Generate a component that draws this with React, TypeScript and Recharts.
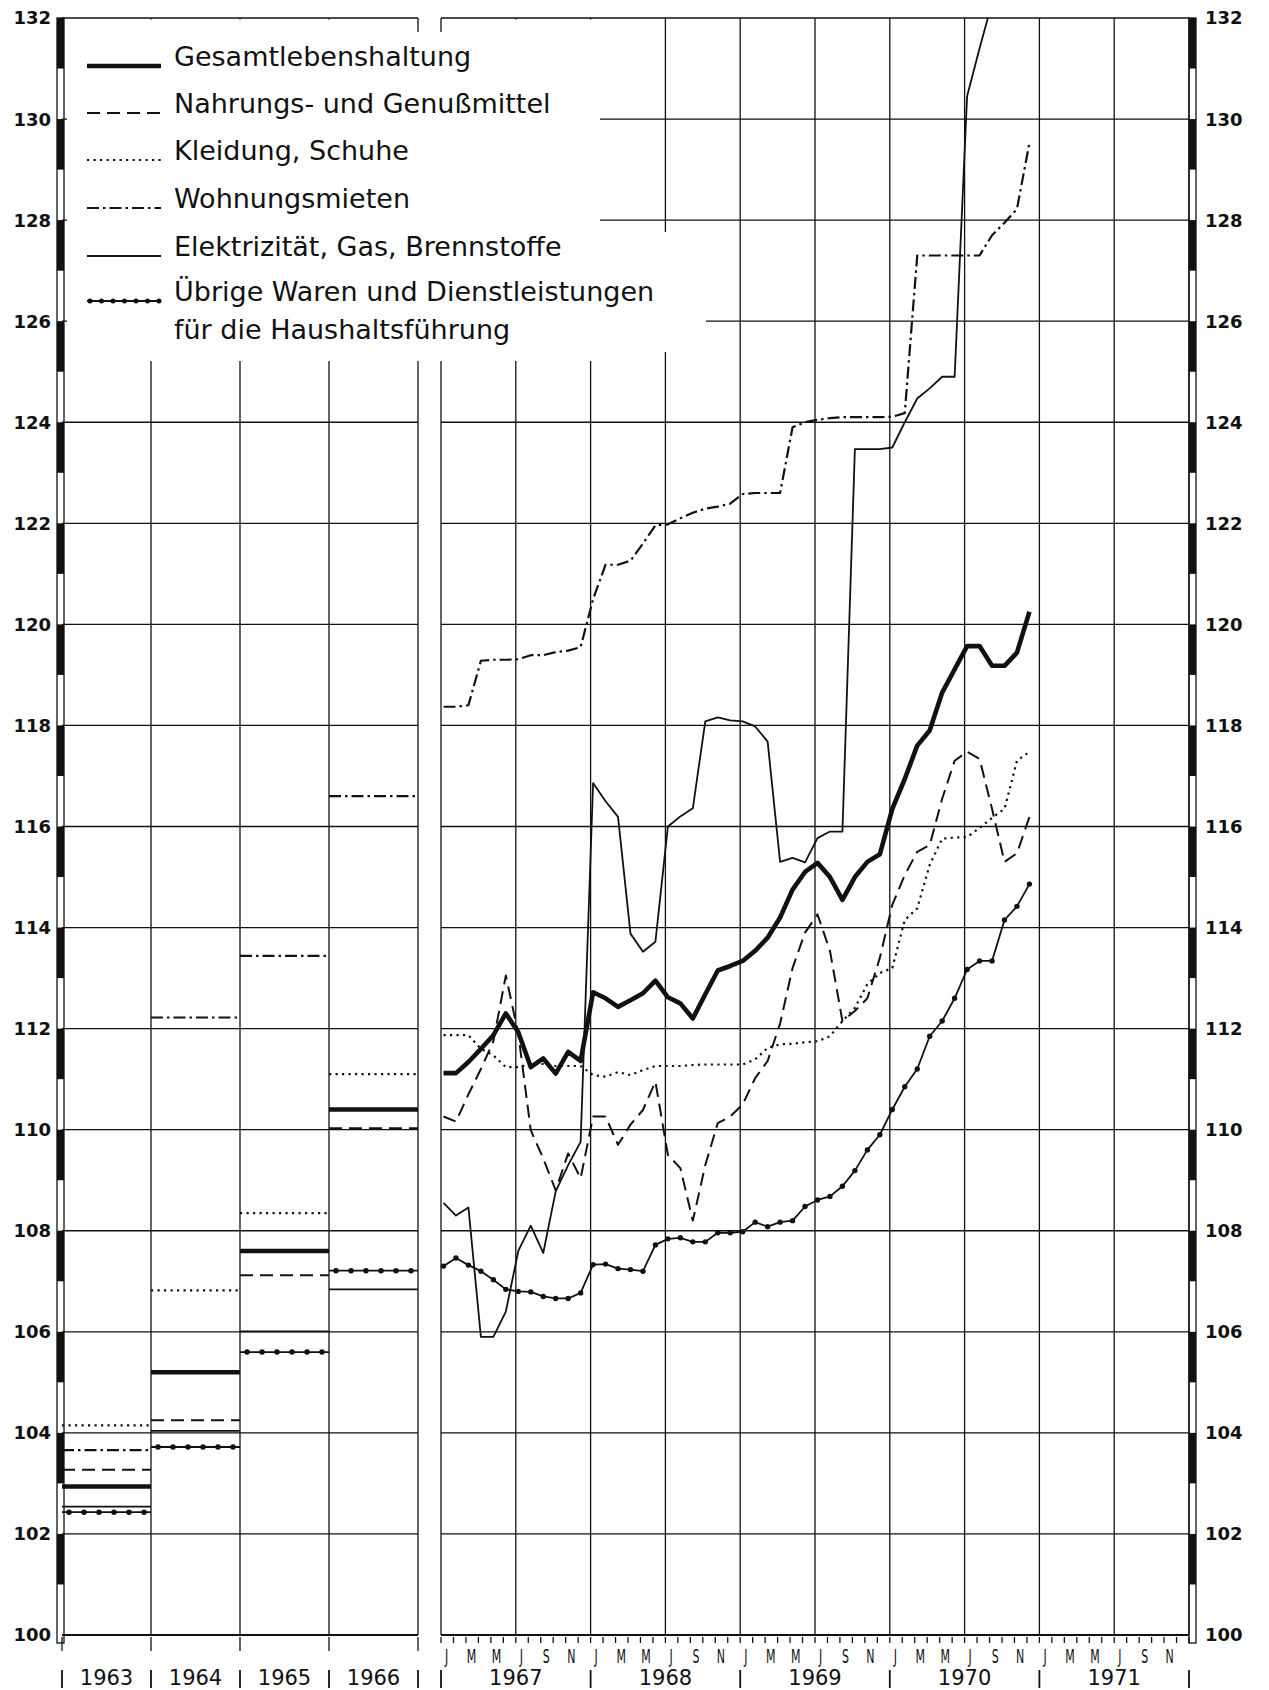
import React from 'react';
import { LineChart, Line, XAxis, YAxis, ReferenceLine } from 'recharts';

// Jahresdurchschnitte 1963-1966 (1962 = 100)
const years = ['1963', '1964', '1965', '1966'];
const gesamtYear = [102.94, 105.2, 107.6, 110.4];
const nahrungYear = [103.27, 104.25, 107.12, 110.03];
const kleidungYear = [104.15, 106.82, 108.35, 111.1];
const wohnYear = [103.66, 112.22, 113.44, 116.6];
const elektrYear = [102.54, 104.04, 106.01, 106.84];
const uebrigeYear = [102.43, 103.72, 105.6, 107.21];

// Monatswerte Januar 1967 - Dezember 1970
const monthYears = ['1967', '1968', '1969', '1970', '1971'];
const monthLetters = ['J', 'M', 'M', 'J', 'S', 'N'];

const gesamt = [
  111.12, 111.12, 111.34, 111.6, 111.87, 112.3, 111.93, 111.24, 111.41, 111.11, 111.54, 111.36,
  112.72, 112.6, 112.43, 112.56, 112.7, 112.95, 112.62, 112.5, 112.2, 112.68, 113.15, 113.24,
  113.34, 113.54, 113.8, 114.2, 114.75, 115.1, 115.28, 115.0, 114.55, 115.0, 115.3, 115.45,
  116.35, 116.94, 117.6, 117.9, 118.65, 119.11, 119.57, 119.57, 119.18, 119.18, 119.44, 120.25,
];
const nahrung = [
  110.26, 110.16, 110.7, 111.2, 111.75, 113.05, 111.9, 109.99, 109.43, 108.8, 109.53, 109.04,
  110.26, 110.26, 109.7, 110.1, 110.39, 110.95, 109.5, 109.24, 108.2, 109.3, 110.13, 110.26,
  110.5, 111.02, 111.36, 112.1, 113.2, 113.9, 114.26, 113.54, 112.15, 112.35, 112.6, 113.4,
  114.45, 115.04, 115.5, 115.63, 116.55, 117.3, 117.48, 117.34, 116.35, 115.3, 115.47, 116.19,
];
const kleidung = [
  111.87, 111.87, 111.87, 111.6, 111.47, 111.24, 111.24, 111.3, 111.3, 111.26, 111.26, 111.26,
  111.08, 111.05, 111.14, 111.08, 111.18, 111.26, 111.26, 111.26, 111.28, 111.29, 111.29, 111.29,
  111.29, 111.39, 111.62, 111.69, 111.7, 111.73, 111.75, 111.85, 112.15, 112.41, 112.88, 113.1,
  113.2, 114.15, 114.38, 115.24, 115.76, 115.78, 115.79, 115.97, 116.17, 116.35, 117.3, 117.48,
];
const wohn = [
  118.37, 118.37, 118.4, 119.28, 119.3, 119.3, 119.31, 119.39, 119.39, 119.45, 119.48, 119.55,
  120.5, 121.18, 121.18, 121.26, 121.6, 121.96, 121.98, 122.1, 122.21, 122.29, 122.33, 122.39,
  122.58, 122.6, 122.6, 122.6, 123.9, 124.0, 124.05, 124.08, 124.1, 124.1, 124.1, 124.1,
  124.11, 124.18, 127.3, 127.3, 127.3, 127.3, 127.3, 127.3, 127.7, 127.95, 128.22, 129.53,
];
const elektr = [
  108.55, 108.3, 108.46, 105.9, 105.9, 106.4, 107.6, 108.1, 107.56, 108.78, 109.3, 109.76,
  116.86, 116.5, 116.19, 113.88, 113.52, 113.72, 116.0, 116.2, 116.36, 118.08, 118.16, 118.1,
  118.08, 117.98, 117.68, 115.3, 115.38, 115.29, 115.77, 115.9, 115.9, 123.47, 123.47, 123.47,
  123.5, 124.0, 124.47, 124.67, 124.9, 124.9, 130.45, 131.4, 132.3, 133.2, 134.0, 134.8,
];
const uebrige = [
  107.3, 107.46, 107.32, 107.2, 107.03, 106.84, 106.8, 106.79, 106.7, 106.66, 106.66, 106.77,
  107.33, 107.34, 107.25, 107.23, 107.2, 107.72, 107.84, 107.86, 107.78, 107.78, 107.96, 107.96,
  107.98, 108.17, 108.08, 108.17, 108.2, 108.48, 108.61, 108.68, 108.88, 109.19, 109.6, 109.9,
  110.4, 110.85, 111.2, 111.85, 112.15, 112.6, 113.17, 113.34, 113.34, 114.15, 114.42, 114.86,
];

const seriesNames = [
  'Gesamtlebenshaltung',
  'Nahrungs- und Genußmittel',
  'Kleidung, Schuhe',
  'Wohnungsmieten',
  'Elektrizität, Gas, Brennstoffe',
  'Übrige Waren und Dienstleistungen',
];
const seriesNameCont = 'für die Haushaltsführung';

const yTicks = Array.from({ length: 33 }, (_, i) => 100 + i);
const yGrid = yTicks.filter((v) => v % 2 === 0 && v > 100);
const monthTicks = Array.from({ length: 61 }, (_, i) => i);

const INK = '#111';
const FONT = '"DejaVu Sans", Verdana, sans-serif';
const TOP = 18;
const BOTTOM = 1635;
const UNIT = (BOTTOM - TOP) / 32;
const LEFT_X0 = 62;
const LEFT_X1 = 418;
const RIGHT_X0 = 441;
const RIGHT_X1 = 1189;
const YEAR_W = (LEFT_X1 - LEFT_X0) / 4;
const MONTH_W = (RIGHT_X1 - RIGHT_X0) / 60;

const styles: Record<string, any> = {
  gesamt: { strokeWidth: 4.6 },
  nahrung: { strokeWidth: 2, strokeDasharray: '13 7' },
  kleidung: { strokeWidth: 2.2, strokeDasharray: '2.2 4.3' },
  wohn: { strokeWidth: 2.2, strokeDasharray: '12 4 2.5 4' },
  elektr: { strokeWidth: 1.8 },
  uebrige: { strokeWidth: 1.8 },
};
const keys = ['gesamt', 'nahrung', 'kleidung', 'wohn', 'elektr', 'uebrige'];

// left panel: each year is one flat segment, broken by an empty row
const annualRows = years.flatMap((_, k) => {
  const vals = {
    gesamt: gesamtYear[k],
    nahrung: nahrungYear[k],
    kleidung: kleidungYear[k],
    wohn: wohnYear[k],
    elektr: elektrYear[k],
    uebrige: uebrigeYear[k],
  };
  return [{ x: k, ...vals }, { x: k + 1, ...vals }, { x: k + 1 }];
});

const monthRows = gesamt.map((_, i) => ({
  x: i + 0.2,
  gesamt: gesamt[i],
  nahrung: nahrung[i],
  kleidung: kleidung[i],
  wohn: wohn[i],
  elektr: elektr[i],
  uebrige: uebrige[i],
}));

const LeftYTick = ({ x, y, payload }: any) => {
  const v = payload.value;
  return (
    <g>
      {v % 2 === 0 && v > 100 && <rect x={x - 3} y={y} width={7} height={UNIT} fill={INK} />}
      {v === 132 && (
        <rect x={x - 3} y={y} width={7} height={UNIT * 32 + 8} fill="none" stroke={INK} strokeWidth={1.3} />
      )}
      {v % 2 === 0 && (
        <text x={x - 9} y={y} dy="0.36em" textAnchor="end" fontFamily={FONT} fontWeight="bold" fontSize={18} fill={INK}>
          {v}
        </text>
      )}
    </g>
  );
};

const RightYTick = ({ x, y, payload }: any) => {
  const v = payload.value;
  return (
    <g>
      {v % 2 === 0 && v > 100 && <rect x={x - 2} y={y} width={7} height={UNIT} fill={INK} />}
      {v === 132 && (
        <rect x={x - 2} y={y} width={7} height={UNIT * 32 + 8} fill="none" stroke={INK} strokeWidth={1.3} />
      )}
      {v % 2 === 0 && (
        <text x={x + 14} y={y} dy="0.36em" textAnchor="start" fontFamily={FONT} fontWeight="bold" fontSize={18} fill={INK}>
          {v}
        </text>
      )}
    </g>
  );
};

const LeftXTick = ({ x, y, payload }: any) => {
  const k = payload.value;
  return (
    <g>
      <line x1={x} x2={x} y1={y} y2={y + 14} stroke={INK} strokeWidth={1.3} />
      <line x1={x} x2={x} y1={y + 33} y2={y + 51} stroke={INK} strokeWidth={1.8} />
      {k < 4 && (
        <text x={x + YEAR_W / 2} y={y + 48} textAnchor="middle" fontFamily={FONT} fontSize={21} fill={INK}>
          {years[k]}
        </text>
      )}
    </g>
  );
};

const MonthTick = ({ x, y, payload }: any) => {
  const v = payload.value;
  const m = v % 12;
  const lx = x + MONTH_W * 0.45;
  return (
    <g>
      <line x1={x} x2={x} y1={y} y2={y + 6} stroke={INK} strokeWidth={1.3} />
      {v < 60 && m % 2 === 0 && (
        <text
          transform={`translate(${lx},${y + 26}) scale(0.55,1)`}
          textAnchor="middle"
          fontFamily={FONT}
          fontSize={20}
          fill={INK}
        >
          {monthLetters[m / 2]}
        </text>
      )}
      {m === 0 && <line x1={x} x2={x} y1={y + 33} y2={y + 51} stroke={INK} strokeWidth={1.8} />}
      {m === 6 && (
        <text x={x} y={y + 48} textAnchor="middle" fontFamily={FONT} fontSize={21} fill={INK}>
          {monthYears[(v - 6) / 12]}
        </text>
      )}
    </g>
  );
};

function seriesLines(dotted: boolean) {
  return keys.map((k) => (
    <Line
      key={k}
      type="linear"
      dataKey={k}
      stroke={INK}
      {...styles[k]}
      strokeLinejoin="round"
      dot={k === 'uebrige' && !dotted ? { r: 2.7, fill: INK, stroke: INK, strokeWidth: 0 } : false}
      activeDot={false}
      isAnimationActive={false}
    />
  ));
}

const legendBaselines = [66, 113, 160, 208, 256, 301];

function Legend() {
  return (
    <svg width={720} height={370} style={{ position: 'absolute', left: 0, top: 0 }}>
      <rect x={67} y={32} width={533} height={329} fill="#fff" />
      <rect x={67} y={19.5} width={349} height={13} fill="#fff" />
      <rect x={420} y={19.5} width={19} height={13} fill="#fff" />
      <rect x={443} y={19.5} width={157} height={13} fill="#fff" />
      <rect x={600} y={232} width={106} height={120} fill="#fff" />
      {legendBaselines.map((by, i) => {
        const k = keys[i];
        const s = styles[k];
        return (
          <g key={k}>
            <line x1={87} x2={161} y1={by} y2={by} stroke={INK} strokeWidth={s.strokeWidth} strokeDasharray={s.strokeDasharray} />
            {k === 'uebrige' && (
              <line x1={90} x2={161} y1={by} y2={by} stroke={INK} strokeWidth={5} strokeLinecap="round" strokeDasharray="0 11.5" />
            )}
            <text x={174} y={by} fontFamily={FONT} fontSize={27} fill={INK}>
              {seriesNames[i]}
            </text>
          </g>
        );
      })}
      <text x={174} y={339} fontFamily={FONT} fontSize={27} fill={INK}>
        {seriesNameCont}
      </text>
    </svg>
  );
}

export default function App() {
  return (
    <div style={{ position: 'absolute', left: 0, top: 0, width: 1269, height: 1690, background: '#fff' }}>
      <div style={{ position: 'absolute', left: 0, top: 0 }}>
        <LineChart width={421} height={1690} data={annualRows} margin={{ top: TOP, right: 3, bottom: 0, left: 0 }}>
          <XAxis
            type="number"
            dataKey="x"
            domain={[0, 4]}
            ticks={[0, 1, 2, 3, 4]}
            interval={0}
            height={55}
            tickSize={0}
            tickLine={false}
            axisLine={{ stroke: INK, strokeWidth: 2.2 }}
            tick={(p: any) => <LeftXTick {...p} />}
          />
          <YAxis
            type="number"
            domain={[100, 132]}
            ticks={yTicks}
            interval={0}
            width={LEFT_X0}
            tickSize={0}
            tickLine={false}
            axisLine={false}
            allowDataOverflow
            tick={(p: any) => <LeftYTick {...p} />}
          />
          {yGrid.map((v) => (
            <ReferenceLine key={'h' + v} y={v} stroke={INK} strokeWidth={1.3} />
          ))}
          {[1, 2, 3, 4].map((k) => (
            <ReferenceLine key={'v' + k} x={k} stroke={INK} strokeWidth={1.3} />
          ))}
          {seriesLines(true)}
          <Line
            type="linear"
            dataKey="uebrige"
            stroke={INK}
            strokeWidth={5.5}
            strokeLinecap="round"
            strokeDasharray="0 15"
            strokeDashoffset={-7}
            dot={false}
            activeDot={false}
            isAnimationActive={false}
          />
        </LineChart>
      </div>
      <div style={{ position: 'absolute', left: 430, top: 0 }}>
        <LineChart width={839} height={1690} data={monthRows} margin={{ top: TOP, right: 0, bottom: 0, left: RIGHT_X0 - 430 }}>
          <XAxis
            type="number"
            dataKey="x"
            domain={[0, 60]}
            ticks={monthTicks}
            interval={0}
            height={55}
            tickSize={0}
            tickLine={false}
            axisLine={{ stroke: INK, strokeWidth: 2.2 }}
            tick={(p: any) => <MonthTick {...p} />}
          />
          <YAxis
            type="number"
            orientation="right"
            domain={[100, 132]}
            ticks={yTicks}
            interval={0}
            width={1269 - RIGHT_X1}
            tickSize={0}
            tickLine={false}
            axisLine={false}
            allowDataOverflow
            tick={(p: any) => <RightYTick {...p} />}
          />
          {yGrid.map((v) => (
            <ReferenceLine key={'h' + v} y={v} stroke={INK} strokeWidth={1.3} />
          ))}
          {[0, 6, 12, 18, 24, 30, 36, 42, 48, 54, 60].map((k) => (
            <ReferenceLine key={'v' + k} x={k} stroke={INK} strokeWidth={1.3} />
          ))}
          {seriesLines(false)}
        </LineChart>
      </div>
      <Legend />
    </div>
  );
}
